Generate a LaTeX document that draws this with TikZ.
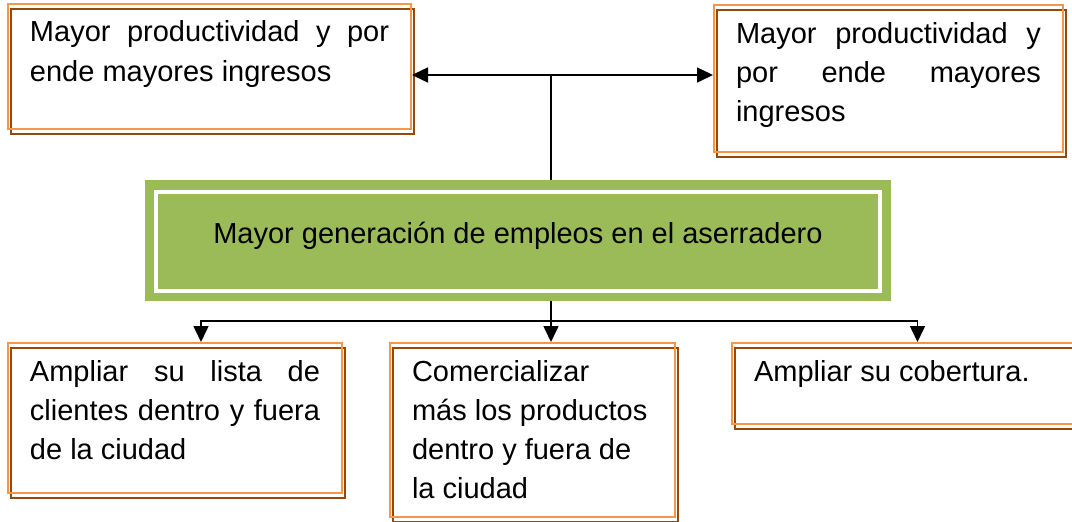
\documentclass[tikz,border=0pt]{standalone}
\usepackage{fontspec}
\setmainfont{Liberation Sans}
\usepackage{tikz}
\usetikzlibrary{arrows.meta}
\definecolor{naranja}{RGB}{247,150,70}
\definecolor{cafe}{RGB}{152,72,7}
\definecolor{verde}{RGB}{155,187,89}
\newcommand{\justo}[1]{\makebox[\linewidth][s]{#1}}
\newcommand{\bloque}[3]{\parbox[c][#2][t]{#1}{\strut #3}}

\tikzset{
  caja/.style={draw=naranja, line width=2pt, anchor=north west,
    inner xsep=22pt, inner ysep=10.7pt,
    preaction={draw=cafe, transform canvas={shift={(3pt,-5pt)}}}},
  linea/.style={line width=1.6pt},
  flecha/.style={line width=1.6pt, -{Triangle[width=15pt,length=16pt]}},
  dobleflecha/.style={line width=1.6pt, {Triangle[width=15pt,length=16pt]}-{Triangle[width=15pt,length=16pt]}}
}

\begin{document}
\begin{tikzpicture}[x=1pt, y=-1pt, font=\fontsize{29}{39}\selectfont]
            \useasboundingbox (0,0) rectangle (1072,522);

            % cajas de arriba
            \node[caja] (b1) at (7,3)
                {\bloque{359pt}{104pt}{\justo{Mayor productividad y por}\\ ende mayores ingresos}};
            \node[caja] (b2) at (713,4)
                {\bloque{305pt}{126pt}{\justo{Mayor productividad y}\\ \justo{por ende mayores}\\ ingresos}};

            % caja central
            \node[fill=verde, minimum width=746pt, minimum height=121pt, inner sep=0pt,
                text height=12pt, text depth=7pt] (gen) at (518,240.5)
                {Mayor generación de empleos en el aserradero};
            \draw[white, line width=4pt] ([shift={(11,12)}]gen.north west)
                rectangle ([shift={(-11,-10)}]gen.south east);

            % cajas de abajo
            \node[caja] (b3) at (7,342)
                {\bloque{290pt}{129pt}{\justo{Ampliar su lista de}\\ \justo{clientes dentro y fuera}\\ de la ciudad}};
            \node[caja] (b4) at (389,342)
                {\bloque{241pt}{153pt}{Comercializar\\ más los productos\\ dentro y fuera de\\ la ciudad}};
            \node[caja] (b5) at (731,342)
                {\bloque{309pt}{60pt}{Ampliar su cobertura.}};

            % conectores
            \coordinate (cruce) at (551,75);
            \coordinate (rama) at (551,321);
            \draw[linea] (cruce |- gen.north) -- (cruce);
            \draw[dobleflecha] (b1.east |- cruce) -- (b2.west |- cruce);
            \draw[linea] (rama |- gen.south) -- (rama);
            \draw[flecha] (rama) -| ([xshift=26pt]b3.north);
            \draw[flecha] (rama) -- (rama |- b4.north);
            \draw[flecha] (rama) -| ([xshift=9pt]b5.north);
        \end{tikzpicture}
\end{document}
